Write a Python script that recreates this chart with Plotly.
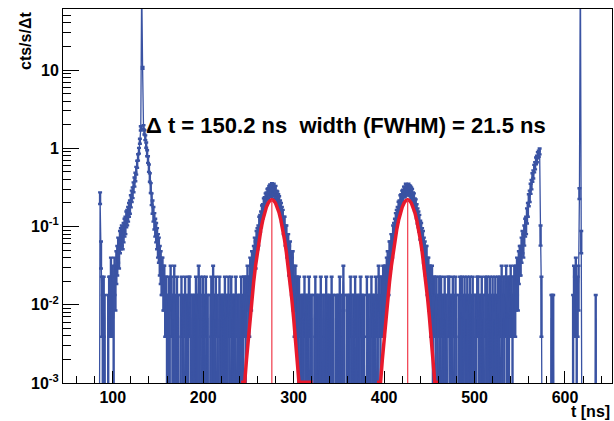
import numpy as np
import plotly.graph_objects as go

# ---------------- data (counts per 1 ns bin) ----------------
COUNTS_PER_UNIT = 150.0   # counts corresponding to 1 cts/s/Δt

lead_start = 80
lead_counts = [0, 0, 0, 0, 0, 0, 35, 7, 2, 1, 2, 1, 0, 0, 0, 1, 2]

left_peak_start = 97
left_peak_counts = [2, 4, 2, 3, 1, 4, 3, 5, 6, 8, 7, 10, 11, 12, 11, 13, 15, 16, 19, 20,
                    22, 25, 27, 32, 37, 41, 48, 56, 65, 78, 94, 115, 140, 185, 270, 20000, 1600, 280, 240, 205,
                    165, 130, 108, 84, 64, 47, 34, 27, 22, 18, 15, 13, 11, 9, 8, 6, 5, 4, 4, 3,
                    3, 2, 2, 1]

noise_b_start = 161
noise_b = [1, 2, 1, 3, 2, 1, 1, 3, 0, 1,
           2, 1, 0, 0, 1, 2, 1, 1, 0, 2,
           1, 0, 1, 2, 2, 1, 0, 1, 1, 0,
           1, 2, 1, 1, 3, 1, 2, 0, 1, 2,
           1, 0, 2, 1, 1, 0, 0, 1, 2, 1,
           3, 1, 1, 2, 0, 1, 0, 2, 1, 1,
           0, 1, 1, 2, 1, 0, 1, 2, 1, 0,
           2, 1, 1, 0, 1, 2, 0, 1, 1, 0,
           1, 2, 0, 1, 2]

peak1_start = 246
peak1_counts = [2, 1, 2, 3, 2, 2, 4, 3, 5, 5, 6, 8, 7, 10, 11, 12, 16, 17, 19, 23,
                24, 29, 30, 34, 35, 39, 40, 43, 45, 42, 47, 43, 46, 40, 43, 37, 36, 33, 31, 27,
                25, 22, 20, 16, 16, 12, 12, 9, 9, 6, 7, 5, 4, 5, 3, 2, 3, 2, 2, 1, 2]

noise_c_start = 307
noise_c = [0, 1, 0, 1, 1, 2, 1, 0, 1, 1,
           2, 0, 1, 1, 0, 0, 1, 2, 1, 0,
           1, 1, 0, 2, 1, 0, 1, 0, 1, 2,
           1, 1, 0, 1, 0, 2, 1, 1, 0, 0,
           1, 0, 1, 1, 2, 1, 0, 1, 3, 1,
           0, 0, 1, 1, 0, 1, 2, 1, 0, 1,
           1, 2, 0, 1, 1, 0, 1, 2, 1, 1,
           0, 1, 0, 0, 2, 1, 1, 0, 1, 2,
           1, 0, 1, 1, 2, 0, 1, 3, 2]

peak2_start = 396
peak2_counts = [1, 2, 2, 3, 2, 3, 3, 4, 5, 4, 7, 7, 9, 9, 12, 13, 15, 18, 20, 22,
                26, 27, 32, 33, 37, 38, 42, 42, 46, 44, 45, 46, 44, 43, 41, 39, 35, 34, 29, 28,
                24, 21, 19, 17, 14, 13, 11, 10, 8, 7, 6, 6, 4, 4, 3, 3, 2, 3, 1, 2, 2]

noise_d_start = 457
noise_d = [1, 2, 1, 0, 2, 1, 2, 0, 1, 1,
           2, 1, 1, 0, 2, 2, 1, 0, 1, 2,
           0, 1, 2, 1, 0, 0, 1, 2, 1, 2,
           1, 0, 2, 1, 1, 2, 0, 1, 2, 1,
           0, 2, 1, 0, 1, 1, 2, 2, 1, 0,
           1, 2, 1, 1, 0, 2, 1, 2, 0, 1,
           2, 1, 0, 2, 1, 1, 2, 0, 1, 2,
           1, 2, 0, 3, 1, 2, 1, 2, 3, 1,
           2, 1, 2, 3, 2, 1, 2, 3, 2]

right_peak_start = 546
right_peak_counts = [3, 4, 3, 5, 6, 6, 8, 10, 9, 12, 15, 16, 21, 25, 33, 37, 46, 52, 64, 70,
                     83, 90, 104, 110, 123, 128, 137, 12, 2]

tail_start = 575
tail_counts = [0, 0, 0, 0, 0, 0, 0, 0, 0, 0,
               1, 1, 1, 0, 0, 0, 0, 0, 0, 0,
               0, 0, 0, 0, 0, 0, 0, 0, 0, 0,
               0, 0, 0, 0, 1, 3, 2, 4, 1, 2,
               3, 40, 50000, 10, 0, 0, 0, 0, 0, 0,
               0, 0, 0, 0, 0, 0, 0, 0, 0, 1,
               0, 0, 0, 0, 0, 0, 0, 0, 0, 0, 0]

# Gaussian fits
fit_centers = [275.9, 426.1]          # Δt = 150.2 ns
fit_tail_ends = [45, 34]              # fit range end, relative to centre
fit_offsets = [-34, -30, -28, -26, -24, -22, -20, -18, -16, -14, -12, -10, -8, -6, -4, -2, 0,
               2, 4, 6, 8, 10, 12, 14, 16, 18, 20, 22, 24, 26, 28, 30]
fit_values = [0.00102, 0.00102, 0.0020, 0.00382, 0.00696, 0.01208, 0.0200, 0.0315, 0.0474, 0.0679,
              0.0928, 0.1208, 0.1499, 0.1773, 0.1999, 0.2148, 0.22,
              0.2148, 0.1999, 0.1773, 0.1499, 0.1208, 0.0928, 0.0679, 0.0474, 0.0315, 0.0200,
              0.01208, 0.00696, 0.00382, 0.0020, 0.00102]
fit_floor = 0.00102
fit_peak = 0.22

x_major = [100, 200, 300, 400, 500, 600]
y_major = [1e-3, 1e-2, 1e-1, 1, 10]
y_major_text = ['10<sup>-3</sup>', '10<sup>-2</sup>', '10<sup>-1</sup>', '1', '10']

# ---------------- build arrays ----------------
segments = [(lead_start, lead_counts), (left_peak_start, left_peak_counts),
            (noise_b_start, noise_b), (peak1_start, peak1_counts),
            (noise_c_start, noise_c), (peak2_start, peak2_counts),
            (noise_d_start, noise_d), (right_peak_start, right_peak_counts),
            (tail_start, tail_counts)]
t, n = [], []
for start, vals in segments:
    t += [start + i for i in range(len(vals))]
    n += vals
t = np.array(t, float)
n = np.array(n, float)
rate = n / COUNTS_PER_UNIT
err = np.sqrt(n) / COUNTS_PER_UNIT
err_lo = np.minimum(err, rate * 0.9999)
below = 1e-5   # empty bins drop below the log axis
y = np.where(n > 0, rate, below)

BLUE = '#3a53a3'
RED = '#e8192c'

fig = go.Figure()
fig.add_trace(go.Scatter(
    x=t, y=y, mode='lines',
    line=dict(color=BLUE, width=1.3, simplify=False),
    error_y=dict(type='data', array=err, arrayminus=err_lo, color=BLUE, thickness=2.4, width=2),
    hoverinfo='skip', showlegend=False))

for c, tail_end in zip(fit_centers, fit_tail_ends):
    fx = [c + d for d in fit_offsets] + [c + tail_end]
    fy = fit_values + [fit_floor]
    fig.add_trace(go.Scatter(x=fx, y=fy, mode='lines', line=dict(color=RED, width=3.5),
                             hoverinfo='skip', showlegend=False))
    fig.add_trace(go.Scatter(x=[c, c], y=[1e-4, fit_peak], mode='lines',
                             line=dict(color='#f03a4a', width=1.2),
                             hoverinfo='skip', showlegend=False))

FONT = 'Liberation Sans, Arial, sans-serif'
x_minor = [v for v in range(60, 660, 20) if v % 100 != 0]
y_minor = [m * 10.0 ** e for e in range(-3, 2) for m in range(2, 10)]

fig.update_layout(
    width=614, height=421,
    margin=dict(l=63, r=2, t=9, b=38),
    paper_bgcolor='white', plot_bgcolor='white',
    font=dict(family=FONT, color='black'),
    xaxis=dict(range=[45, 652], showline=True, mirror=True, linecolor='black', linewidth=1,
               showgrid=False, zeroline=False,
               tickmode='array', tickvals=x_major, ticks='inside', ticklen=12,
               tickcolor='black', tickwidth=1,
               tickfont=dict(family=FONT, size=16, weight='bold', color='black'),
               minor=dict(tickvals=x_minor, ticks='inside', ticklen=7, tickcolor='black')),
    yaxis=dict(type='log', range=[-3, 1.78], showline=True, mirror=True, linecolor='black',
               linewidth=1, showgrid=False, zeroline=False,
               tickmode='array', tickvals=y_major, ticktext=y_major_text,
               ticks='inside', ticklen=16, tickcolor='black', tickwidth=1,
               tickfont=dict(family=FONT, size=16, weight='bold', color='black'),
               minor=dict(tickvals=y_minor, ticks='inside', ticklen=8, tickcolor='black')),
    annotations=[
        dict(text='Δ t = 150.2 ns  width (FWHM) = 21.5 ns', xref='paper', yref='paper',
             x=(346 - 63) / 549, y=(383 - 125) / 374, xanchor='center', yanchor='middle',
             showarrow=False, font=dict(family=FONT, size=22, weight='bold', color='black')),
        dict(text='cts/s/Δt', xref='paper', yref='paper', textangle=-90,
             x=(25 - 63) / 549, y=(383 - 10) / 374, xanchor='center', yanchor='top',
             showarrow=False, font=dict(family=FONT, size=16, weight='bold', color='black')),
        dict(text='t [ns]', xref='paper', yref='paper',
             x=1.0, y=-(411 - 383) / 374, xanchor='right', yanchor='middle',
             showarrow=False, font=dict(family=FONT, size=16, weight='bold', color='black')),
    ],
)

fig.write_html('out.html')
